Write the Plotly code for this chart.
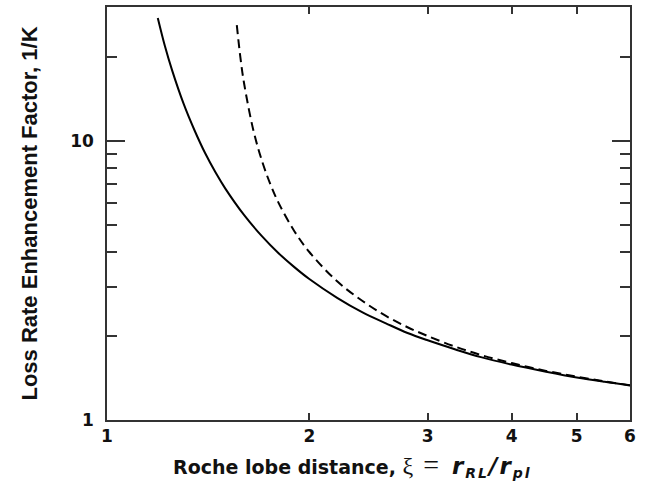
import plotly.graph_objects as go

# Roche lobe distance xi and loss-rate enhancement factor 1/K
xi_solid = [1.19, 1.22, 1.25, 1.30, 1.35, 1.40, 1.45, 1.50, 1.60, 1.70, 1.80, 1.90,
            2.00, 2.20, 2.40, 2.60, 2.80, 3.00, 3.30, 3.60, 4.00, 4.50, 5.00, 5.50, 6.00]
k_solid = [27.6, 21.8, 17.9, 13.6, 10.9, 9.03, 7.72, 6.75, 5.42, 4.56, 3.96, 3.53,
           3.20, 2.74, 2.43, 2.22, 2.05, 1.93, 1.79, 1.68, 1.58, 1.49, 1.42, 1.37, 1.33]

xi_dashed = [1.56, 1.58, 1.60, 1.65, 1.70, 1.75, 1.80, 1.90, 2.00, 2.20, 2.40, 2.60,
             2.80, 3.00, 3.30, 3.60, 4.00, 4.50, 5.00, 5.50, 6.00]
k_dashed = [26.0, 19.75, 16.0, 11.0, 8.5, 7.0, 6.0, 4.75, 4.0, 3.14, 2.67, 2.36,
            2.15, 2.00, 1.83, 1.71, 1.60, 1.50, 1.43, 1.375, 1.333]

x_ticks = [1, 2, 3, 4, 5, 6]
y_major = [1, 10]
y_minor = [2, 3, 4, 5, 6, 7, 8, 9, 20]

TXT = "#111111"
AX = "#333333"
FONT = "DejaVu Sans"

x_title = ("<b>Roche lobe distance, </b>"
           "<span style=\"font-family:'Liberation Serif';font-size:24px\">ξ</span>"
           "<span style=\"font-family:'Liberation Serif';font-size:28px;letter-spacing:3px\"> = </span>"
           "<span style=\"font-size:23px;letter-spacing:2px\"><b><i>r</i></b></span>"
           "<span style=\"font-size:20px;letter-spacing:2px\"><sub><b><i>RL</i></b></sub></span>"
           "<span style=\"font-size:23px;letter-spacing:2px\"><b><i>/r</i></b></span>"
           "<span style=\"font-size:20px;letter-spacing:2px\"><sub><b><i>pl</i></b></sub></span>")

fig = go.Figure()
fig.add_trace(go.Scatter(x=xi_solid, y=k_solid, mode="lines", line=dict(color="black", width=2, shape="spline"),
                         showlegend=False))
fig.add_trace(go.Scatter(x=xi_dashed, y=k_dashed, mode="lines",
                         line=dict(color="black", width=2, dash="9px,5px", shape="spline"), showlegend=False))

fig.add_annotation(text=x_title, xref="paper", yref="paper", x=0.47, y=-0.108,
                   xanchor="center", yanchor="middle", showarrow=False,
                   font=dict(family=FONT, size=19, color=TXT))

fig.update_layout(
    width=659, height=482,
    margin=dict(l=107, r=29, t=5, b=62),
    plot_bgcolor="white", paper_bgcolor="white",
    font=dict(family=FONT, color=TXT, size=17),
    xaxis=dict(
        type="log", range=[0, 0.77815],
        tickmode="array", tickvals=x_ticks, ticktext=[str(v) for v in x_ticks],
        ticks="inside", ticklen=7, tickwidth=1.5, tickcolor=AX,
        showline=True, linecolor=AX, linewidth=1.5, mirror="allticks",
        showgrid=False, zeroline=False,
        tickfont=dict(family=FONT, size=17, weight="bold"),
    ),
    yaxis=dict(
        type="log", range=[0, 1.48],
        tickmode="array", tickvals=y_major, ticktext=[str(v) for v in y_major],
        ticks="inside", ticklen=18, tickwidth=1.5, tickcolor=AX,
        minor=dict(tickmode="array", tickvals=y_minor, ticks="inside", ticklen=10, tickwidth=1.5, tickcolor=AX),
        showline=True, linecolor=AX, linewidth=1.5, mirror="allticks",
        showgrid=False, zeroline=False,
        tickfont=dict(family=FONT, size=17, weight="bold"),
        ticklabelstandoff=8,
        title=dict(text="<b>Loss Rate Enhancement Factor, 1/K</b>",
                   font=dict(family="Liberation Sans", size=22), standoff=26),
    ),
)

fig.write_html("out.html", config={"displayModeBar": False},
               post_script="document.body.style.margin='0';")
